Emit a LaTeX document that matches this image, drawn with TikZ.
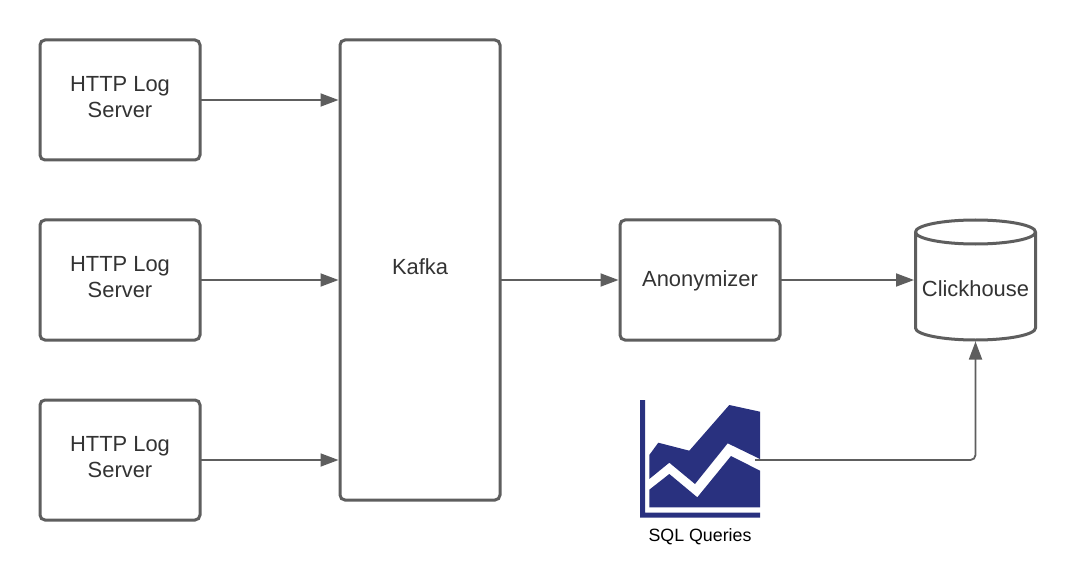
\documentclass[tikz,border=0pt]{standalone}
\usepackage{fontspec}
\setmainfont{Liberation Sans}
\usetikzlibrary{arrows.meta}
\definecolor{linegray}{HTML}{5E5E5E}
\definecolor{textgray}{HTML}{333333}
\definecolor{iconblue}{HTML}{29317F}
\tikzset{
  boxnode/.style={draw=linegray,line width=3pt,rounded corners=5pt,fill=white,outer sep=0pt,inner sep=0pt},
  txt/.style={text=textgray,font=\fontsize{21.9}{26}\selectfont,align=center,inner sep=0pt},
  conn/.style={draw=linegray,line width=1.8pt,-{Triangle[length=18pt,width=13pt]},shorten >=1.5pt},
}
\begin{document}
\begin{tikzpicture}[x=1pt,y=-1pt]
\useasboundingbox (0,0) rectangle (1076,588);
\fill[white] (0,0) rectangle (1076,588);
% boxes
\node[boxnode,minimum width=160pt,minimum height=120pt] (s1) at (120,100) {};
\node[boxnode,minimum width=160pt,minimum height=120pt] (s2) at (120,280) {};
\node[boxnode,minimum width=160pt,minimum height=120pt] (s3) at (120,460) {};
\node[boxnode,minimum width=160pt,minimum height=460pt] (k) at (420,270) {};
\node[boxnode,minimum width=160pt,minimum height=120pt] (an) at (700,280) {};
\node[txt] (s1t) at (120,97) {HTTP Log\\Server};
\node[txt] (s2t) at (120,277) {HTTP Log\\Server};
\node[txt] (s3t) at (120,457) {HTTP Log\\Server};
\node[txt] (kt) at (420,267) {Kafka};
\node[txt] (ant) at (700,280.5) {Anonymizer};
% cylinder
\draw[draw=linegray,line width=3pt,fill=white,line join=round]
  (915.5,232) arc[x radius=60,y radius=12,start angle=180,end angle=0]
  -- (1035.5,328) arc[x radius=60,y radius=12,start angle=0,end angle=180] -- cycle;
\draw[draw=linegray,line width=3pt]
  (915.5,232) arc[x radius=60,y radius=12,start angle=180,end angle=360];
\node[txt] (ch) at (975.5,289) {Clickhouse};
\coordinate (chw) at (915.5,280);
\coordinate (chs) at (975.5,340);
% icon
\fill[iconblue] (640,400) -- (645,400) -- (645,512.7) -- (760,512.7) -- (760,517.7) -- (640,517.7) -- cycle;
\fill[iconblue] (649.3,455) -- (658.3,442.7) -- (689.3,450.7) -- (729.3,405) -- (760,411.7) -- (760,459) -- (727.7,443.3) -- (695,484) -- (669.3,462.7) -- (649.3,479) -- cycle;
\fill[iconblue] (649.3,489.7) -- (669.3,474) -- (697.3,497.3) -- (731,456) -- (760,470.7) -- (760,507.3) -- (649.3,507.3) -- cycle;
\coordinate (ic) at (755,460);
\node[inner sep=0pt,text=black,font=\fontsize{17.8}{20}\selectfont] (sql) at (700,536.5) {SQL Queries};
% connectors
\draw[conn] (s1.east) -- (k.west |- s1.east);
\draw[conn] (s2.east) -- (k.west |- s2.east);
\draw[conn] (s3.east) -- (k.west |- s3.east);
\draw[conn] (k.east |- an.west) -- (an.west);
\draw[conn] (an.east) -- (chw);
\draw[conn,rounded corners=5pt] (ic) -- (ic -| chs) -- (chs);
\end{tikzpicture}
\end{document}
